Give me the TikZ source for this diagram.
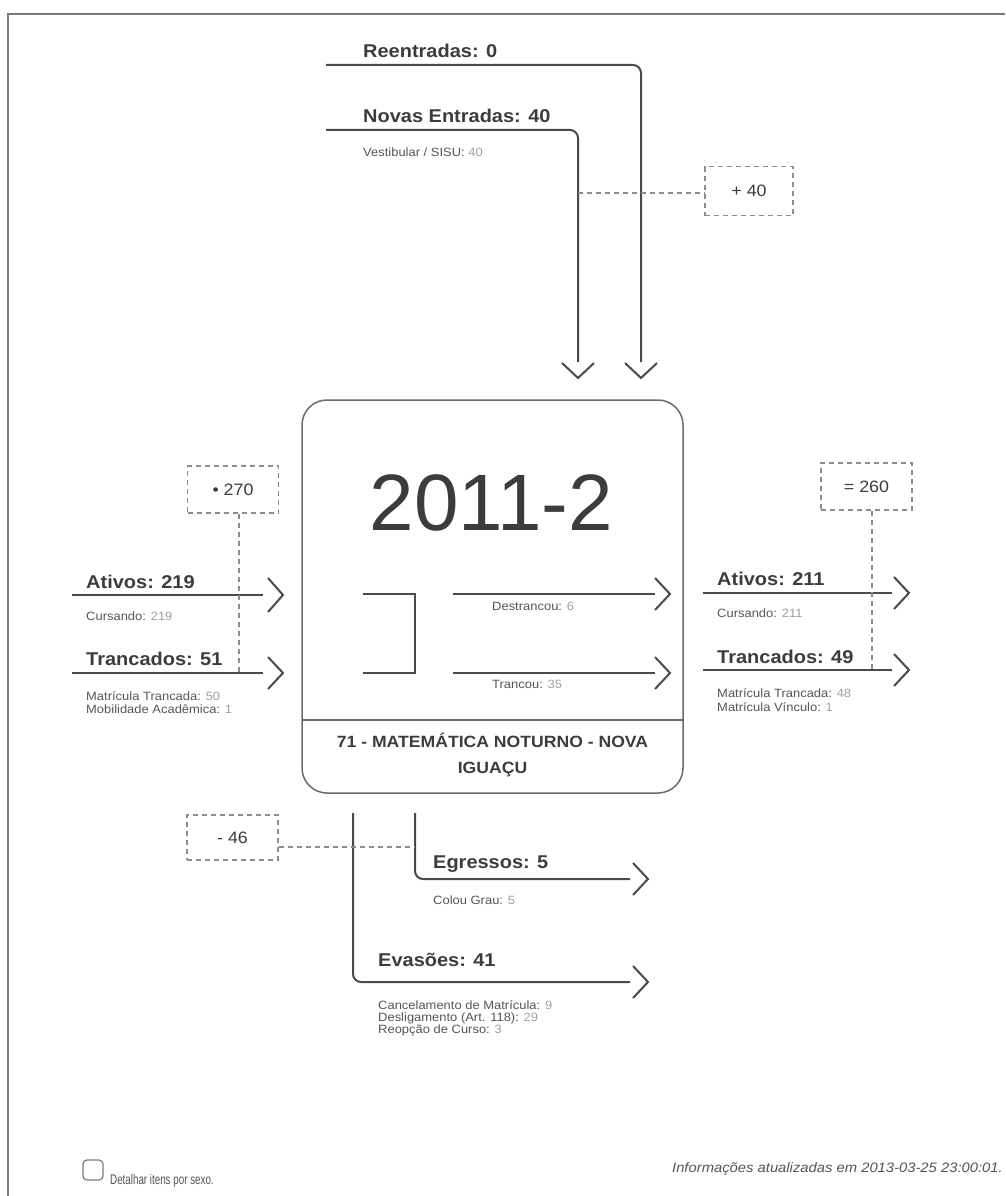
\documentclass[tikz,border=0pt]{standalone}
\usepackage{fontspec}
\setmainfont{Liberation Sans}[FakeStretch=1.08]
\newfontfamily\plainfont{Liberation Sans}
\newfontfamily\narrowfont{Liberation Sans}[FakeStretch=0.7]
\definecolor{headc}{HTML}{3C3C3C}
\definecolor{labc}{HTML}{555555}
\definecolor{numc}{HTML}{A0A0A0}
\definecolor{linec}{HTML}{4A4A4A}
\definecolor{dashc}{HTML}{8C8C8C}
\definecolor{framec}{HTML}{7A7A7A}
\definecolor{boxc}{HTML}{6A6A6A}
\newcommand{\lbl}[2]{{\color{labc}#1:} {\color{numc}#2}}
\tikzset{
  flow/.style={draw=linec, line width=2pt, rounded corners=8pt},
  chev/.style={draw=linec, line width=2pt},
  dashline/.style={draw=dashc, line width=1.3pt, dash pattern=on 5pt off 4pt},
  dashbox/.style={draw=dashc, line width=1.3pt, dash pattern=on 5pt off 4pt,
    minimum width=91pt, minimum height=47pt, inner sep=0pt, text=headc,
    font=\fontsize{16.5}{18}\selectfont},
  head/.style={anchor=base west, inner sep=0pt, text=headc,
    font=\bfseries\fontsize{18.5}{22}\selectfont},
  sub/.style={anchor=base west, inner sep=0pt, text=labc,
    font=\fontsize{12}{14}\selectfont},
}
\begin{document}
\begin{tikzpicture}[x=1pt,y=-1pt]
\useasboundingbox (0,0) rectangle (1005,1196);
% frame
\draw[framec, line width=2pt] (8,1196) -- (8,14) -- (1005,14);

% ---------- top entries ----------
\node[head] (reent) at (363,58) {Reentradas: 0};
\node[head] (novas) at (363,123) {Novas Entradas: 40};
\node[sub] (vest) at (363,157) {\lbl{Vestibular / SISU}{40}};
\coordinate (reS) at (326,65);
\coordinate (reE) at (641,362);
\coordinate (reT) at (641,378);
\coordinate (nvS) at (326,130);
\coordinate (nvE) at (578,362);
\coordinate (nvT) at (578,378);
\draw[flow] (reS) -| (reE);
\draw[flow] (nvS) -| (nvE);
\draw[chev] (reT) ++(-16,-15) -- (reT) -- ++(16,-15);
\draw[chev] (nvT) ++(-16,-15) -- (nvT) -- ++(16,-15);
\node[dashbox, minimum width=88pt, minimum height=49pt] (b40) at (749,191) {+ 40};
\coordinate (nvD) at (578,193);
\draw[dashline] (nvD) -- (nvD -| b40.west);

% ---------- central box ----------
\node[draw=boxc, line width=1.5pt, rounded corners=25pt, minimum width=381pt,
  minimum height=393pt, inner sep=0pt] (main) at (492.5,596.5) {};
\coordinate (divL) at (302,720);
\draw[boxc, line width=1.2pt] (divL) -- (divL -| main.east);
\node[anchor=base, inner sep=0pt, text=headc, font=\plainfont\fontsize{80}{80}\selectfont]
  (year) at (491.5,530) {2011-2};
\node[anchor=base, inner sep=0pt, text=headc, font=\bfseries\fontsize{16.3}{26}\selectfont]
  (curso1) at (492.5,747) {71 - MATEMÁTICA NOTURNO - NOVA};
\node[anchor=base, inner sep=0pt, text=headc, font=\bfseries\fontsize{16.3}{26}\selectfont]
  (curso2) at (492.5,773) {IGUAÇU};
% bracket
\coordinate (brA) at (363,594);
\coordinate (brB) at (415,594);
\coordinate (brC) at (415,673);
\coordinate (brD) at (363,673);
\draw[linec, line width=2pt] (brA) -- (brB) -- (brC) -- (brD);
% inner arrows
\coordinate (dsS) at (453,594);
\coordinate (dsE) at (655,594);
\coordinate (dsT) at (670,594);
\coordinate (trS) at (453,673);
\coordinate (trE) at (655,673);
\coordinate (trT) at (670,673);
\draw[flow] (dsS) -- (dsE);
\draw[flow] (trS) -- (trE);
\draw[chev] (dsT) ++(-15,-16) -- (dsT) -- ++(-15,16);
\draw[chev] (trT) ++(-15,-16) -- (trT) -- ++(-15,16);
\node[sub] (destr) at (492,610) {\lbl{Destrancou}{6}};
\node[sub] (tranc) at (492,688) {\lbl{Trancou}{35}};

% ---------- left side ----------
\node[dashbox] (b270) at (233,489.5) {\textbullet\ 270};
\node[head] (atL) at (86,588) {Ativos: 219};
\node[sub] (cuL) at (86,620) {\lbl{Cursando}{219}};
\node[head] (trLh) at (86,665) {Trancados: 51};
\node[sub] (mtL) at (86,700) {\lbl{Matrícula Trancada}{50}};
\node[sub] (moL) at (86,713) {\lbl{Mobilidade Acadêmica}{1}};
\coordinate (alS) at (72,595);
\coordinate (alE) at (263,595);
\coordinate (alT) at (283,595);
\coordinate (tlS) at (72,673);
\coordinate (tlE) at (263,673);
\coordinate (tlT) at (283,673);
\draw[flow] (alS) -- (alE);
\draw[flow] (tlS) -- (tlE);
\draw[chev] (alT) ++(-15,-17) -- (alT) -- ++(-15,17);
\draw[chev] (tlT) ++(-15,-16) -- (tlT) -- ++(-15,16);
\coordinate (t270) at (239,673);
\draw[dashline] (b270.south -| t270) -- (t270);

% ---------- right side ----------
\node[dashbox] (b260) at (866.5,486.5) {= 260};
\node[head] (atR) at (717,585) {Ativos: 211};
\node[sub] (cuR) at (717,617) {\lbl{Cursando}{211}};
\node[head] (trRh) at (717,663) {Trancados: 49};
\node[sub] (mtR) at (717,697) {\lbl{Matrícula Trancada}{48}};
\node[sub] (viR) at (717,711) {\lbl{Matrícula Vínculo}{1}};
\coordinate (arS) at (703,593);
\coordinate (arE) at (892,593);
\coordinate (arT) at (909,593);
\coordinate (trRS) at (703,670);
\coordinate (trRE) at (892,670);
\coordinate (trRT) at (909,670);
\draw[flow] (arS) -- (arE);
\draw[flow] (trRS) -- (trRE);
\draw[chev] (arT) ++(-15,-16) -- (arT) -- ++(-15,16);
\draw[chev] (trRT) ++(-15,-16) -- (trRT) -- ++(-15,16);
\coordinate (t260) at (872,670);
\draw[dashline] (b260.south -| t260) -- (t260);

% ---------- bottom ----------
\node[dashbox, minimum height=45pt] (b46) at (232.5,837.5) {- 46};
\coordinate (egS) at (415,813);
\coordinate (egE) at (630,879);
\coordinate (egT) at (648,879);
\coordinate (evS) at (353,813);
\coordinate (evE) at (630,982);
\coordinate (evT) at (648,982);
\draw[flow] (egS) |- (egE);
\draw[flow] (evS) |- (evE);
\draw[chev] (egT) ++(-15,-16) -- (egT) -- ++(-15,16);
\draw[chev] (evT) ++(-15,-16) -- (evT) -- ++(-15,16);
\coordinate (egD) at (415,847);
\draw[dashline] (b46.east |- egD) -- (egD);
\node[head] (egr) at (433,868) {Egressos: 5};
\node[sub] (colou) at (433,904) {\lbl{Colou Grau}{5}};
\node[head] (eva) at (378,966) {Evasões: 41};
\node[sub] (canc) at (378,1009) {\lbl{Cancelamento de Matrícula}{9}};
\node[sub] (desl) at (378,1021) {\lbl{Desligamento (Art. 118)}{29}};
\node[sub] (reop) at (378,1033) {\lbl{Reopção de Curso}{3}};

% ---------- footer ----------
\node[draw=framec, line width=1.2pt, rounded corners=4pt, minimum size=20pt, inner sep=0pt]
  (chk) at (93,1170) {};
\node[anchor=base west, inner sep=0pt, text=labc, font=\narrowfont\fontsize{14}{16}\selectfont]
  (det) at (110,1184) {Detalhar itens por sexo.};
\node[anchor=base east, inner sep=0pt, text=labc, font=\itshape\fontsize{13.7}{16}\selectfont]
  (info) at (1003,1172) {Informações atualizadas em 2013-03-25 23:00:01.};
\end{tikzpicture}
\end{document}
